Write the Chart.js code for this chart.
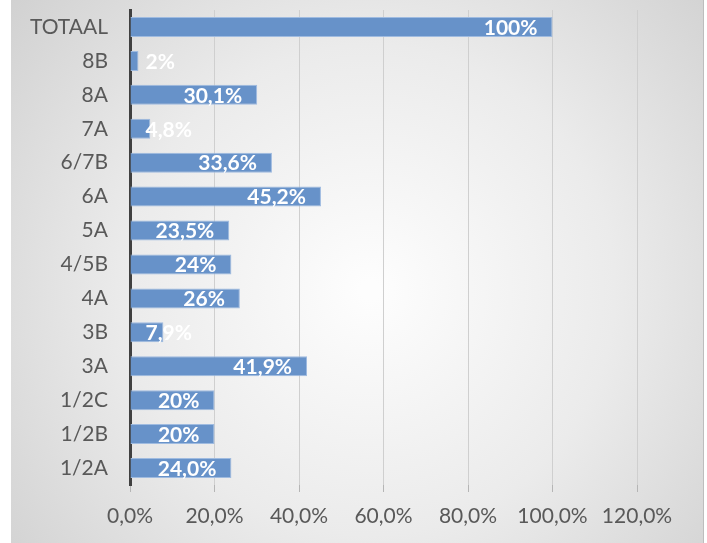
<!DOCTYPE html>
<html>
<head>
<meta charset="utf-8">
<script src="https://cdn.jsdelivr.net/npm/chart.js@4/dist/chart.umd.min.js"></script>
<style>
  html, body { margin: 0; padding: 0; background: #fff; }
  #wrap { width: 707px; height: 543px; position: relative; }
</style>
</head>
<body>
<div id="wrap"><canvas id="chart"></canvas></div>
<script>
// groepen, van boven naar onder
const groepen = ['TOTAAL', '8B', '8A', '7A', '6/7B', '6A', '5A', '4/5B', '4A', '3B', '3A', '1/2C', '1/2B', '1/2A'];
const percentages = [100, 2, 30.1, 4.8, 33.6, 45.2, 23.5, 24, 26, 7.9, 41.9, 20, 20, 24.0];
const labelTeksten = ['100%', '2%', '30,1%', '4,8%', '33,6%', '45,2%', '23,5%', '24%', '26%', '7,9%', '41,9%', '20%', '20%', '24,0%'];
const asTicks = [0, 20, 40, 60, 80, 100, 120];

const FONT = 'Lato, "Open Sans", sans-serif';

// grijze achtergrond met lichte kern
const achtergrond = {
    id: 'achtergrond',
    beforeDraw(chart) {
        const ctx = chart.ctx;
        ctx.save();
        ctx.fillStyle = '#ffffff';
        ctx.fillRect(0, 0, chart.width, chart.height);
        const g = ctx.createRadialGradient(370, 290, 10, 370, 290, 480);
        g.addColorStop(0, '#fdfdfd');
        g.addColorStop(0.5, '#ebebeb');
        g.addColorStop(1, '#cfcfcf');
        ctx.fillStyle = g;
        ctx.fillRect(11, 0, 693, chart.height);
        ctx.fillStyle = '#bdbdbd';
        ctx.fillRect(703, 0, 1, chart.height);
        ctx.restore();
    }
};

// witte waardes in de balken
const waardeLabels = {
    id: 'waardeLabels',
    afterDatasetsDraw(chart) {
        const ctx = chart.ctx;
        const meta = chart.getDatasetMeta(0);
        ctx.save();
        ctx.font = 'bold 21px ' + FONT;
        ctx.fillStyle = '#ffffff';
        ctx.textBaseline = 'middle';
        ctx.textAlign = 'left';
        meta.data.forEach((bar, i) => {
            const tekst = labelTeksten[i];
            const w = ctx.measureText(tekst).width;
            let x = bar.x - 15 - w;
            if (x < bar.base + 15) x = bar.base + 15;
            ctx.fillText(tekst, x, bar.y + 1);
        });
        ctx.restore();
    }
};

const ctx = document.getElementById('chart').getContext('2d');
new Chart(ctx, {
    type: 'bar',
    data: {
        labels: groepen,
        datasets: [{
            data: percentages,
            backgroundColor: '#6792c9',
            borderColor: '#9fbbe0',
            borderWidth: 1,
            barPercentage: 0.59,
            categoryPercentage: 1
        }]
    },
    options: {
        indexAxis: 'y',
        responsive: true,
        maintainAspectRatio: false,
        animation: false,
        layout: { padding: { top: 10, right: 70, bottom: 0, left: 0 } },
        plugins: {
            legend: { display: false },
            tooltip: { enabled: false }
        },
        scales: {
            x: {
                min: 0,
                max: 120,
                afterBuildTicks(scale) {
                    scale.ticks = asTicks.map(v => ({ value: v }));
                },
                afterFit(scale) { scale.height = 58; scale.paddingLeft = 0; scale.paddingRight = 0; },
                ticks: {
                    color: '#595959',
                    font: { family: FONT, size: 21 },
                    padding: 12,
                    callback: v => v.toFixed(1).replace('.', ',') + '%'
                },
                grid: {
                    color: '#cfcfcf',
                    lineWidth: 1,
                    tickLength: 7,
                    tickColor: '#b5b5b5'
                },
                border: { display: false }
            },
            y: {
                afterFit(scale) { scale.width = 130; scale.paddingTop = 0; scale.paddingBottom = 0; },
                ticks: {
                    color: '#595959',
                    font: { family: FONT, size: 21 },
                    padding: 22
                },
                grid: { display: false, drawTicks: false },
                border: { display: true, color: '#404040', width: 3 }
            }
        }
    },
    plugins: [achtergrond, waardeLabels]
});
</script>
</body>
</html>
